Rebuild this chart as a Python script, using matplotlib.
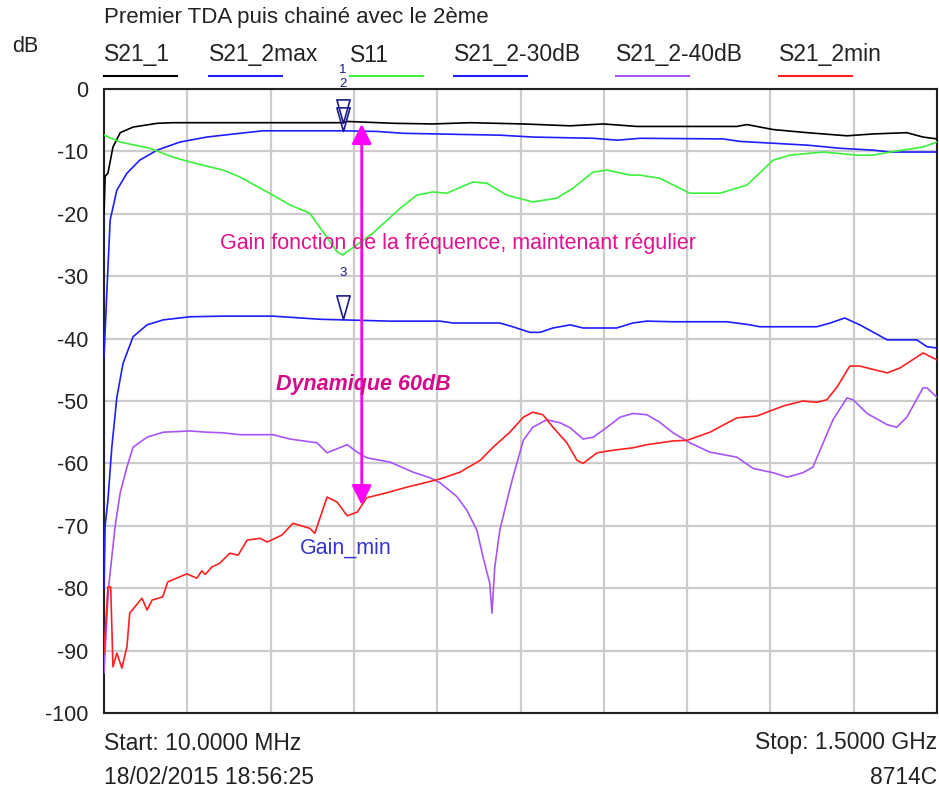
import matplotlib
matplotlib.use("Agg")
import numpy as np
import matplotlib.pyplot as plt
from matplotlib.path import Path
from matplotlib.lines import Line2D

plt.rcParams["font.family"] = ["Liberation Sans", "DejaVu Sans"]

# traces: frequency (MHz), level (dB)
f_s21_1 = [10, 12, 17, 26, 39, 62, 105, 132, 437, 445, 530, 598, 665, 760, 844, 903,
           963, 1142, 1160, 1207, 1268, 1339, 1386, 1446, 1475, 1500]
db_s21_1 = [-20, -14, -13.5, -9.3, -7, -6.1, -5.5, -5.4, -5.4, -5.2, -5.5, -5.6, -5.4, -5.6,
            -5.9, -5.6, -6.0, -6.0, -5.7, -6.5, -7.0, -7.5, -7.2, -7.0, -7.7, -8.0]

f_s21_2max = [10, 15, 21, 33, 51, 74, 105, 146, 194, 253, 294, 437, 498, 545, 718, 777,
              885, 928, 969, 1117, 1148, 1268, 1327, 1386, 1416, 1500]
db_s21_2max = [-43, -32.7, -21, -16.2, -13.5, -11.4, -9.8, -8.5, -7.7, -7.1, -6.7, -6.7,
               -6.8, -7.1, -7.4, -7.7, -7.9, -8.2, -7.9, -8.0, -8.4, -9.0, -9.5, -9.8, -10.1, -10.1]

f_s11 = [10, 39, 92, 133, 164, 223, 253, 312, 343, 378, 402, 427, 437, 491, 540, 570, 598,
         623, 670, 695, 730, 777, 820, 849, 885, 910, 951, 969, 1004, 1058, 1112, 1160,
         1207, 1237, 1296, 1357, 1386, 1416, 1475, 1500]
db_s11 = [-7.4, -8.5, -9.5, -10.9, -11.7, -13, -14.1, -17, -18.6, -19.9, -22.9, -26.1, -26.6,
          -23.1, -19.1, -17, -16.5, -16.7, -14.9, -15.1, -17, -18.1, -17.5, -15.9, -13.3, -13,
          -13.8, -13.8, -14.3, -16.7, -16.7, -15.4, -11.4, -10.6, -10.1, -10.6, -10.6, -10.1,
          -9.3, -8.5]

f_s21_30 = [10, 12, 17, 24, 33, 44, 62, 87, 116, 164, 223, 312, 396, 521, 611, 634, 718, 741,
            772, 790, 813, 844, 867, 927, 956, 981, 1028, 1124, 1166, 1183, 1285, 1309, 1335,
            1362, 1411, 1464, 1482, 1500]
db_s21_30 = [-80, -70, -65.9, -57.4, -49.4, -44, -39.7, -37.8, -37, -36.5, -36.4, -36.4, -36.9,
             -37.2, -37.2, -37.5, -37.5, -38.1, -39, -39, -38.3, -37.8, -38.3, -38.3, -37.5,
             -37.2, -37.3, -37.3, -37.8, -38.1, -38.1, -37.5, -36.7, -37.8, -40.2, -40.2,
             -41.3, -41.5]

f_s21_40 = [10, 18, 30, 39, 51, 62, 87, 116, 164, 194, 223, 253, 312, 343, 391, 409, 445, 463,
            480, 522, 527, 563, 593, 611, 641, 659, 677, 688, 700, 704, 709, 718, 731, 740,
            760, 777, 802, 826, 844, 867, 885, 910, 933, 956, 981, 1004, 1028, 1058, 1094,
            1142, 1171, 1207, 1232, 1260, 1278, 1314, 1339, 1350, 1375, 1411, 1428, 1446,
            1475, 1482, 1500]
db_s21_40 = [-93.6, -80, -70, -64.7, -60.6, -57.4, -55.8, -55, -54.8, -55, -55.1, -55.4, -55.4,
             -56.1, -56.7, -58.3, -57, -58.2, -59.1, -59.8, -60, -61.4, -62.3, -63.1, -65.3,
             -67.5, -70.7, -75, -79.2, -84, -76.6, -70.7, -65.9, -62.7, -56.3, -54.2, -53,
             -53.5, -54.3, -56.1, -55.8, -54.2, -52.6, -52, -52.2, -53.4, -55.1, -56.7, -58.2,
             -59, -60.8, -61.5, -62.2, -61.5, -60.6, -53, -49.5, -49.8, -52, -53.8, -54.2,
             -52.6, -47.9, -47.9, -49.4]

f_s21_2min = [10, 17, 22, 26, 33, 42, 51, 56, 78, 87, 96, 115, 124, 158, 176, 185, 191, 203,
              217, 235, 250, 266, 289, 302, 328, 348, 378, 387, 409, 427, 445, 463, 480, 516,
              552, 611, 647, 683, 706, 736, 760, 777, 795, 813, 838, 856, 867, 892, 920, 956,
              981, 1028, 1053, 1094, 1142, 1178, 1225, 1260, 1285, 1303, 1321, 1344, 1362,
              1375, 1411, 1434, 1475, 1500]
db_s21_2min = [-90.4, -79.8, -79.8, -92.6, -90.4, -92.8, -89.4, -84, -81.6, -83.5, -81.9, -81.4,
               -79, -77.7, -78.4, -77.2, -77.8, -76.6, -76, -74.4, -74.7, -72.3, -72, -72.6,
               -71.5, -69.6, -70.4, -71.2, -65.4, -66.2, -68.4, -67.8, -65.5, -64.7, -63.8,
               -62.5, -61.4, -59.5, -57.4, -55, -52.6, -51.8, -52.2, -54.2, -56.7, -59.5, -60,
               -58.3, -57.9, -57.5, -57, -56.4, -56.3, -55, -52.7, -52.4, -50.8, -50, -50.2,
               -49.8, -47.8, -44.4, -44.4, -44.7, -45.5, -44.7, -42.3, -43.4]

traces = [
    ("S21_1", f_s21_1, db_s21_1, "#000000"),
    ("S21_2max", f_s21_2max, db_s21_2max, "#1e1eff"),
    ("S11", f_s11, db_s11, "#3cf03c"),
    ("S21_2-30dB", f_s21_30, db_s21_30, "#1e1eff"),
    ("S21_2-40dB", f_s21_40, db_s21_40, "#a855f7"),
    ("S21_2min", f_s21_2min, db_s21_2min, "#ff2020"),
]

# markers 1, 2, 3 at 437 MHz
mk_freq = 437
mk_levels = [-5.4, -6.7, -36.9]
mk_names = ["1", "2", "3"]
mk_label_y = [3.0, 0.8, -29.5]

y_ticks = list(range(0, -101, -10))
y_labels = [str(v) for v in y_ticks]

W, H = 939, 791
fig = plt.figure(figsize=(W / 100, H / 100), dpi=100)
ax = fig.add_axes([104 / W, (H - 713) / H, 833 / W, 624 / H])

ax.set_xlim(10, 1500)
ax.set_ylim(-100, 0)
ax.set_xticks(np.linspace(10, 1500, 11))
ax.set_xticklabels([])
ax.set_yticks(y_ticks)
ax.set_yticklabels(y_labels, fontsize=15.5, color="#222222")
ax.tick_params(length=0, pad=11)
ax.grid(True, color="#cccccc", lw=1.6)
ax.set_axisbelow(True)
for s in ax.spines.values():
    s.set_color("#222222")
    s.set_linewidth(1.5)

for name, f, db, c in traces:
    ax.plot(f, db, color=c, lw=1.2, zorder=3)

# marker triangles, tip on the trace
tri = Path([(-0.28, 1.0), (0.28, 1.0), (0.0, 0.0), (-0.28, 1.0)],
           [Path.MOVETO, Path.LINETO, Path.LINETO, Path.CLOSEPOLY])
mk_col = "#1c1c8c"
for lvl, nm, ly in zip(mk_levels, mk_names, mk_label_y):
    ax.plot([mk_freq], [lvl], marker=tri, ms=34, mfc="none", mec=mk_col, mew=1.2,
            zorder=4, ls="none")
    ax.text(mk_freq, ly, nm, color=mk_col, fontsize=9.5, ha="center", va="center",
            clip_on=False, zorder=4)

# dynamic range arrow
ax.annotate("", xy=(471, -5.6), xytext=(471, -66.7),
            arrowprops=dict(arrowstyle="<|-|>", color="#ff00ff", lw=2,
                            mutation_scale=30, shrinkA=0, shrinkB=0), zorder=5)

ax.text(217, -24.7, "Gain fonction de la fréquence, maintenant régulier",
        color="#e0108f", fontsize=15.5, va="center", ha="left", zorder=6)
ax.text(318, -47.4, "Dynamique 60dB", color="#d40a8a", fontsize=15.5,
        fontweight="bold", fontstyle="italic", va="center", ha="left", zorder=6)
ax.text(361, -73.6, "Gain_min", color="#3535cc", fontsize=15.5, va="center",
        ha="left", zorder=6)

# header texts
txt_col = "#222222"
fig.text(104 / W, 1 - 18 / H, "Premier TDA puis chainé avec le 2ème", fontsize=16,
         color=txt_col, va="center", ha="left")
fig.text(12 / W, 1 - 47 / H, "dB", fontsize=15.5, color=txt_col, va="center", ha="left")

leg_x = [104, 209, 350, 454, 616, 779]
for (name, f, db, c), lx in zip(traces, leg_x):
    fig.text(lx / W, 1 - 55 / H, name, fontsize=16.5, color=txt_col, va="center", ha="left")
    fig.add_artist(Line2D([lx / W, (lx + 73) / W], [1 - 76 / H, 1 - 76 / H], color=c, lw=1.5))

# footer texts
fig.text(104 / W, 1 - 743 / H, "Start: 10.0000 MHz", fontsize=16.5, color=txt_col,
         va="center", ha="left")
fig.text(937 / W, 1 - 743 / H, "Stop: 1.5000 GHz", fontsize=16.5, color=txt_col,
         va="center", ha="right")
fig.text(104 / W, 1 - 777 / H, "18/02/2015 18:56:25", fontsize=16.5, color=txt_col,
         va="center", ha="left")
fig.text(937 / W, 1 - 777 / H, "8714C", fontsize=16.5, color=txt_col,
         va="center", ha="right")

fig.savefig("out.png", dpi=100)
